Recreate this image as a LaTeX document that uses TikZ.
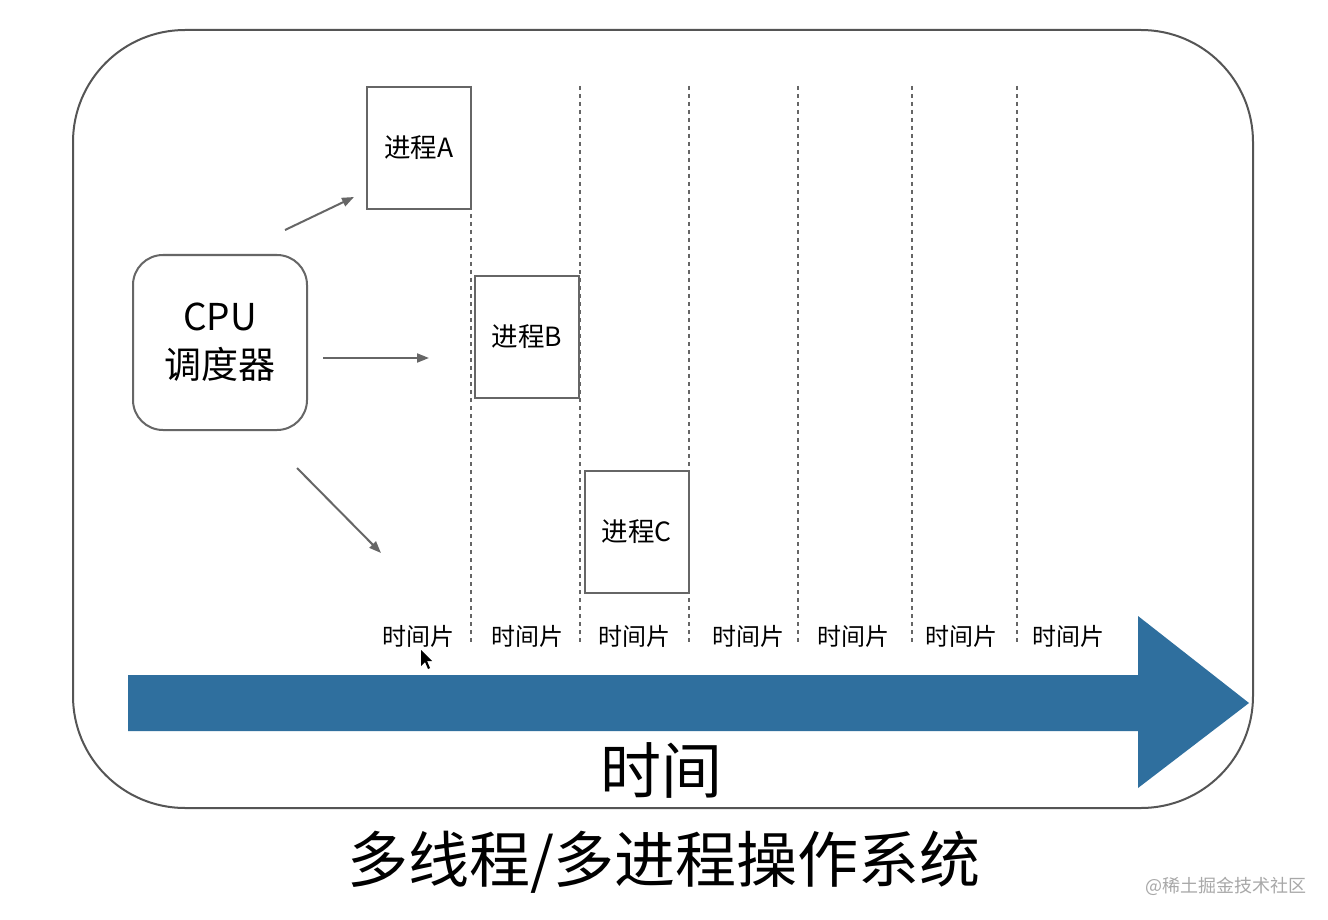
\documentclass[tikz,border=0pt]{standalone}
\usepackage{fontspec}
\setmainfont{Noto Sans CJK SC}
\usetikzlibrary{arrows.meta}
\definecolor{linegray}{HTML}{666666}
\definecolor{framegray}{HTML}{555555}
\definecolor{arrowblue}{HTML}{2F6F9E}
\definecolor{wmgray}{HTML}{A8A8A8}
\tikzset{
  procbox/.style={draw=linegray, line width=2pt, fill=white, minimum width=104pt, minimum height=122pt, inner sep=0pt, font=\fontsize{26.5}{30}\selectfont},
  cpubox/.style={draw=linegray, line width=2pt, rounded corners=30pt, minimum width=174pt, minimum height=175pt, inner sep=0pt, align=center, font=\fontsize{37}{46}\selectfont},
  slotline/.style={draw=linegray, line width=1.3pt, dash pattern=on 4pt off 4pt},
  sched/.style={draw=linegray, line width=2pt, -{Triangle[length=12pt,width=9pt]}},
  slotlabel/.style={font=\fontsize{24}{26}\selectfont, inner sep=0pt}
}
\begin{document}
\begin{tikzpicture}[x=1pt,y=-1pt]
\useasboundingbox (0,0) rectangle (1328,920);
\fill[white] (0,0) rectangle (1328,920);
% outer frame
\draw[framegray, line width=2pt, rounded corners=112pt] (73,30) rectangle (1253,808);
% dashed time-slice boundaries
\foreach \x/\n in {471/a,580/b,689/c,798/d,912/e,1017/f}{
  \coordinate (t\n) at (\x,86);
  \coordinate (b\n) at (\x,645);
  \draw[slotline] (t\n) -- (b\n);
}
% process boxes
\node[procbox] (pa) at (419,148) {进程A};
\node[procbox] (pb) at (527,337) {进程B};
\node[procbox] (pc) at (636.5,531.5) {进程C};
% CPU scheduler
\node[cpubox] (cpu) at (220,342.5) {CPU\\[2pt]调度器};
% scheduler arrows
\coordinate (s1) at (285,230); \coordinate (e1) at (354,197);
\coordinate (s2) at (323,358); \coordinate (e2) at (429,358);
\coordinate (s3) at (297,468); \coordinate (e3) at (381,553);
\draw[sched] (s1) -- (e1);
\draw[sched] (s2) -- (e2);
\draw[sched] (s3) -- (e3);
% time-slice labels
\foreach \x/\n in {418/1,527/2,634/3,748/4,853/5,961/6,1068/7}{
  \node[slotlabel] (l\n) at (\x,636) {时间片};
}
% mouse cursor
\fill[black] (421,650) -- (421,666) -- (425,662) -- (428,669) -- (430,668) -- (427,661) -- (432,661) -- cycle;
% big time arrow
\fill[arrowblue] (128,675) -- (1138,675) -- (1138,616) -- (1249,703) -- (1138,788) -- (1138,731) -- (128,731) -- cycle;
\node[font=\fontsize{61}{66}\selectfont, inner sep=0pt] (time) at (661,770) {时间};
% title
\node[font=\fontsize{61}{68}\selectfont, inner sep=0pt] (title) at (664,862) {多线程/多进程操作系统};
% watermark
\node[font=\fontsize{18}{22}\selectfont, text=wmgray, inner sep=0pt] (wm) at (1226,886) {@稀土掘金技术社区};
\end{tikzpicture}
\end{document}
